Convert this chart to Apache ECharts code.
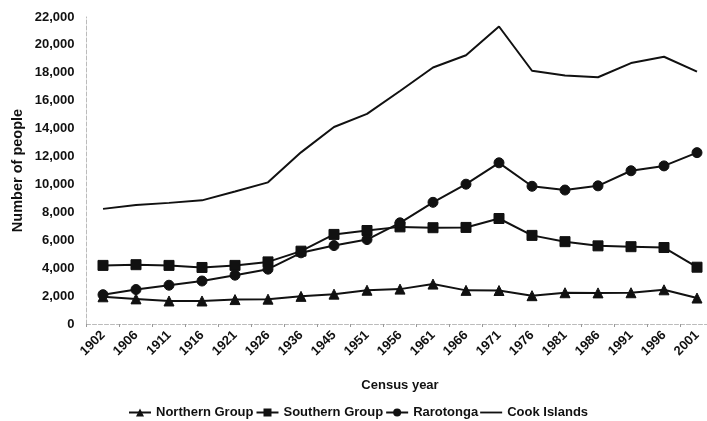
<!DOCTYPE html>
<html><head><meta charset="utf-8">
<script src="https://cdn.jsdelivr.net/npm/echarts@6/dist/echarts.min.js"></script>
<style>html,body{margin:0;padding:0;background:#fff}#c{width:707px;height:421px}</style>
</head><body><div id="c"></div>
<script>
const years = ['1902','1906','1911','1916','1921','1926','1936','1945','1951','1956','1961','1966','1971','1976','1981','1986','1991','1996','2001'];
const northern = [1950,1800,1650,1650,1750,1780,1980,2140,2420,2500,2860,2410,2400,2030,2240,2230,2240,2450,1860];
const southern = [4200,4250,4200,4050,4200,4450,5220,6420,6700,6960,6900,6920,7560,6350,5900,5600,5540,5480,4070];
const rarotonga = [2100,2470,2780,3080,3500,3930,5100,5620,6050,7250,8720,10020,11550,9870,9600,9900,10980,11330,12280];
const cook = [8250,8530,8680,8860,9500,10150,12300,14120,15060,16700,18380,19260,21320,18150,17800,17680,18700,19150,18080];
const seriesNames = ['Northern Group','Southern Group','Rarotonga','Cook Islands'];

const font = 'Liberation Sans, Arial, sans-serif';
const chart = echarts.init(document.getElementById('c'));
function mk(name, data, symbol, size){
  return {name, type:'line', data, symbol, symbolSize:size, showSymbol: symbol!=='none',
    lineStyle:{color:'#111', width:2}, itemStyle:{color:'#111', borderColor:'#111'}, animation:false};
}
chart.setOption({
  animation:false,
  grid:{left:86.5, width:627, top:17, bottom:97, containLabel:false, outerBoundsMode:'none'},
  legend:{bottom:2, left:128, padding:0, itemWidth:22, itemHeight:10, itemGap:2,
    textStyle:{fontFamily:font, fontWeight:'bold', fontSize:13, color:'#111'},
    data:[
      {name:seriesNames[0]},
      {name:seriesNames[1]},
      {name:seriesNames[2]},
      {name:seriesNames[3], icon:'path://M0,0 h24 v2 h-24 z'}
    ]},
  xAxis:{type:'category', data:years, boundaryGap:true,
    name:'Census year', nameLocation:'middle', nameGap:55,
    nameTextStyle:{fontFamily:font, fontWeight:'bold', fontSize:13, color:'#111'},
    axisLine:{lineStyle:{color:'#bbb', type:'dashed', width:1}},
    axisTick:{show:true, length:3, lineStyle:{color:'#999'}},
    axisLabel:{rotate:45, margin:9, fontFamily:font, fontWeight:'bold', fontSize:13, color:'#111', interval:0}},
  yAxis:{type:'value', min:0, max:22000, interval:2000,
    name:'Number of people', nameLocation:'middle', nameGap:61, nameMoveOverlap:false,
    nameTextStyle:{fontFamily:font, fontWeight:'bold', fontSize:14.5, color:'#111'},
    axisLine:{show:true, lineStyle:{color:'#bbb', type:'dashed', width:1}},
    axisTick:{show:false}, splitLine:{show:false},
    axisLabel:{margin:12, fontFamily:font, fontWeight:'bold', fontSize:13, color:'#111',
      formatter:v=>v.toLocaleString('en-US')}},
  series:[
    mk(seriesNames[0], northern, 'triangle', 10),
    mk(seriesNames[1], southern, 'rect', 10),
    mk(seriesNames[2], rarotonga, 'circle', 10),
    mk(seriesNames[3], cook, 'none', 0)
  ]
});
</script></body></html>
